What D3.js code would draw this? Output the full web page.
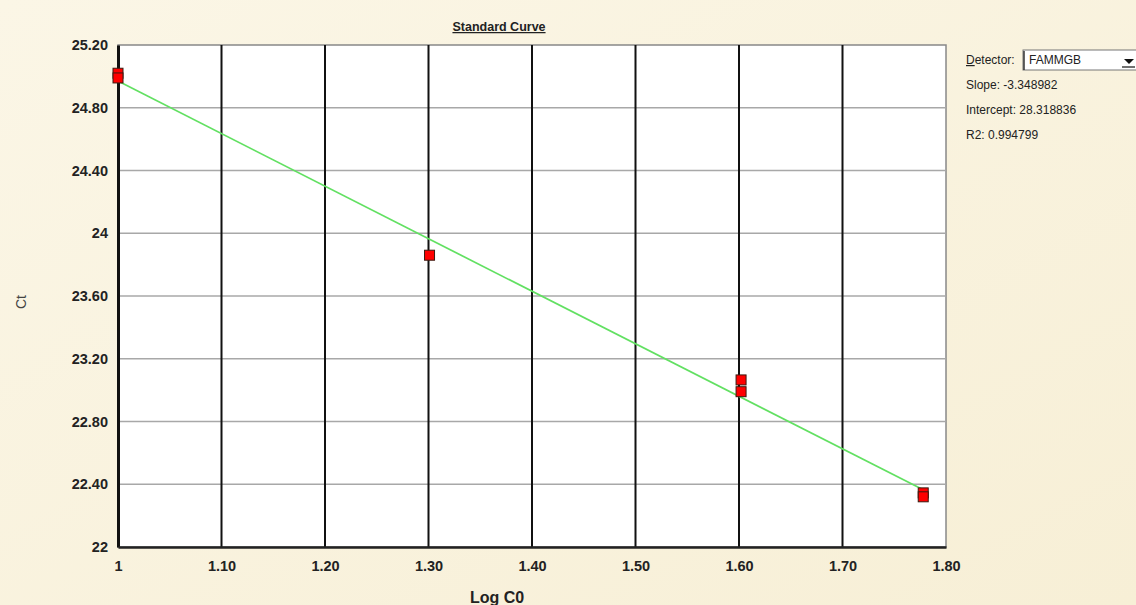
<!DOCTYPE html>
<html>
<head>
<meta charset="utf-8">
<script src="https://cdn.jsdelivr.net/npm/d3@7"></script>
<style>
  html, body { margin: 0; padding: 0; background: #f9f3df; }
  svg { display: block; font-family: "Liberation Sans", Arial, sans-serif; }
</style>
</head>
<body>
<div id="chart"></div>
<script>
// Standard curve data (log of copy number vs Ct)
const logC0 = [1, 1, 1.301, 1.602, 1.602, 1.778, 1.778];
const ctValues = [25.02, 24.99, 23.86, 23.065, 22.99, 22.345, 22.32];

const xTicks = [1, 1.1, 1.2, 1.3, 1.4, 1.5, 1.6, 1.7, 1.8];
const xTickLabels = ['1', '1.10', '1.20', '1.30', '1.40', '1.50', '1.60', '1.70', '1.80'];
const yTicks = [22, 22.4, 22.8, 23.2, 23.6, 24, 24.4, 24.8, 25.2];
const yTickLabels = ['22', '22.40', '22.80', '23.20', '23.60', '24', '24.40', '24.80', '25.20'];

const detector = 'FAMMGB';
const slope = -3.348982;
const intercept = 28.318836;
const r2 = 0.994799;
const fitRange = [1, 1.778];

const W = 1136, H = 605;
const margin = { top: 45, right: 190, bottom: 58, left: 118 };
const width = 946 - margin.left;
const height = 547 - margin.top;

const svg = d3.select('#chart')
    .append('svg')
    .attr('width', W)
    .attr('height', H);

// background
const defs = svg.append('defs');
const grad = defs.append('linearGradient')
    .attr('id', 'bg')
    .attr('x1', '0').attr('y1', '0').attr('x2', '1').attr('y2', '1');
grad.append('stop').attr('offset', '0%').attr('stop-color', '#fbf6e6');
grad.append('stop').attr('offset', '100%').attr('stop-color', '#f7efd6');
svg.append('rect').attr('width', W).attr('height', H).attr('fill', 'url(#bg)');

const g = svg.append('g')
    .attr('transform', `translate(${margin.left},${margin.top})`);

const x = d3.scaleLinear().domain([1, 1.8]).range([0, width]);
const y = d3.scaleLinear().domain([22, 25.2]).range([height, 0]);

// plot area
g.append('rect')
    .attr('width', width)
    .attr('height', height)
    .attr('fill', '#ffffff')
    .attr('stroke', '#888')
    .attr('stroke-width', 1.5);

// horizontal grid (gray)
g.append('g')
    .selectAll('line')
    .data(yTicks.slice(1, -1))
    .enter()
    .append('line')
    .attr('x1', 0)
    .attr('x2', width)
    .attr('y1', d => y(d))
    .attr('y2', d => y(d))
    .attr('stroke', '#a8a8a8')
    .attr('stroke-width', 1.5);

// vertical grid (black)
g.append('g')
    .selectAll('line')
    .data(xTicks.slice(1, -1))
    .enter()
    .append('line')
    .attr('x1', d => x(d))
    .attr('x2', d => x(d))
    .attr('y1', 0)
    .attr('y2', height)
    .attr('stroke', '#111')
    .attr('stroke-width', 2);

// axes
const yAxis = d3.axisLeft(y)
    .tickValues(yTicks)
    .tickSize(0)
    .tickPadding(10)
    .tickFormat((d, i) => yTickLabels[i]);

const xAxis = d3.axisBottom(x)
    .tickValues(xTicks)
    .tickSize(0)
    .tickPadding(14)
    .tickFormat((d, i) => xTickLabels[i]);

const yG = g.append('g').call(yAxis);
yG.select('.domain').attr('stroke', '#111').attr('stroke-width', 3);
yG.selectAll('text')
    .attr('font-size', '14.5px')
    .attr('font-weight', 'bold')
    .attr('fill', '#222');

const xG = g.append('g')
    .attr('transform', `translate(0,${height})`)
    .call(xAxis);
xG.select('.domain').attr('stroke', '#222').attr('stroke-width', 2.5);
xG.selectAll('text')
    .attr('font-size', '14.5px')
    .attr('font-weight', 'bold')
    .attr('fill', '#222');

// fitted line
g.append('line')
    .attr('x1', x(fitRange[0]))
    .attr('y1', y(slope * fitRange[0] + intercept))
    .attr('x2', x(fitRange[1]))
    .attr('y2', y(slope * fitRange[1] + intercept))
    .attr('stroke', '#62e062')
    .attr('stroke-width', 1.7);

// points
const points = logC0.map((v, i) => ({ x: v, y: ctValues[i] }));
g.selectAll('.pt')
    .data(points)
    .enter()
    .append('rect')
    .attr('class', 'pt')
    .attr('x', d => x(d.x) - 5)
    .attr('y', d => y(d.y) - 5)
    .attr('width', 10)
    .attr('height', 10)
    .attr('fill', '#ff0000')
    .attr('stroke', '#3a1a10')
    .attr('stroke-width', 1);

// title
svg.append('text')
    .attr('x', 499)
    .attr('y', 31)
    .attr('text-anchor', 'middle')
    .attr('font-size', '12.5px')
    .attr('font-weight', 'bold')
    .attr('fill', '#222')
    .attr('text-decoration', 'underline')
    .text('Standard Curve');

// axis labels
svg.append('text')
    .attr('transform', 'translate(26,302) rotate(-90)')
    .attr('text-anchor', 'middle')
    .attr('font-size', '14px')
    .attr('fill', '#444')
    .text('Ct');

svg.append('text')
    .attr('x', 497)
    .attr('y', 603)
    .attr('text-anchor', 'middle')
    .attr('font-size', '16px')
    .attr('font-weight', 'bold')
    .attr('fill', '#222')
    .text('Log C0');

// right panel
const panel = svg.append('g').attr('font-size', '12px').attr('fill', '#222');

const det = panel.append('text').attr('x', 966).attr('y', 64);
det.append('tspan').attr('text-decoration', 'underline').text('D');
det.append('tspan').text('etector:');

panel.append('rect')
    .attr('x', 1023).attr('y', 50)
    .attr('width', 116).attr('height', 20)
    .attr('fill', '#fff')
    .attr('stroke', '#777')
    .attr('stroke-width', 1);
panel.append('line')
    .attr('x1', 1024).attr('x2', 1024).attr('y1', 51).attr('y2', 70)
    .attr('stroke', '#333').attr('stroke-width', 1.5);
panel.append('text').attr('x', 1029).attr('y', 64).text(detector);
panel.append('path')
    .attr('d', 'M1124,59 L1134,59 L1129,64 Z')
    .attr('fill', '#111');
panel.append('line')
    .attr('x1', 1122).attr('x2', 1135).attr('y1', 67).attr('y2', 67)
    .attr('stroke', '#111').attr('stroke-width', 1.2);

panel.append('text').attr('x', 966).attr('y', 89).text(`Slope:  ${slope.toFixed(6)}`);
panel.append('text').attr('x', 966).attr('y', 114).text(`Intercept:  ${intercept.toFixed(6)}`);
panel.append('text').attr('x', 966).attr('y', 139).text(`R2:  ${r2.toFixed(6)}`);
</script>
</body>
</html>
